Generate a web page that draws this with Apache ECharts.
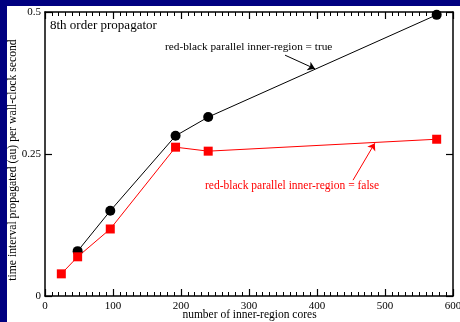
<!DOCTYPE html>
<html>
<head>
    <meta charset="UTF-8">
    <title>8th order propagator</title>
    <script src="https://cdn.jsdelivr.net/npm/echarts/dist/echarts.min.js"></script>
    <style>
        body { margin: 0; background: #000080; }
        #main { width: 460px; height: 322px; }
    </style>
</head>
<body>
    <div id="main"></div>
    <script>
        // data
        var coresTrue = [48, 96, 192, 240, 576];
        var rateTrue = [0.079, 0.150, 0.282, 0.315, 0.495];
        var coresFalse = [24, 48, 96, 192, 240, 576];
        var rateFalse = [0.039, 0.069, 0.118, 0.262, 0.255, 0.276];
        var yTicks = [0, 0.25, 0.5];

        function pairs(xs, ys) {
            return xs.map(function (x, i) { return [x, ys[i]]; });
        }

        var serif = '"Liberation Serif", "DejaVu Serif", serif';

        var chart = echarts.init(document.getElementById('main'));

        var baseX = {
            type: 'value', min: 0, max: 600, interval: 100,
            axisLine: { show: true, onZero: false, lineStyle: { color: '#000', width: 1.5 } },
            axisTick: { show: true, inside: true, length: 7, lineStyle: { color: '#000', width: 1.2 } },
            minorTick: { show: true, splitNumber: 10, length: 4, lineStyle: { color: '#000', width: 1 } },
            splitLine: { show: false }
        };
        var baseY = {
            type: 'value', min: 0, max: 0.5, interval: 0.25,
            axisLine: { show: true, onZero: false, lineStyle: { color: '#000', width: 1.5 } },
            axisTick: { show: true, inside: true, length: 7, lineStyle: { color: '#000', width: 1.2 } },
            splitLine: { show: false }
        };

        var option = {
            backgroundColor: '#000080',
            animation: false,
            graphic: [
                { type: 'rect', left: 7, top: 6, z: -100, shape: { width: 453, height: 316 }, style: { fill: '#fff' } },
                { type: 'text', left: 50, top: 19, style: { text: '8th order propagator', font: '13px ' + serif, fill: '#000' } },
                { type: 'text', left: 165, top: 42, style: { text: 'red-black parallel inner-region = true', font: '11.3px ' + serif, fill: '#000' } },
                { type: 'text', left: 205, top: 180, style: { text: 'red-black parallel inner-region = false', font: '11.5px ' + serif, fill: '#ff0000' } },
                {
                    type: 'text', x: 13, y: 160, rotation: Math.PI / 2,
                    style: {
                        text: 'time interval propagated (au) per wall-clock second',
                        font: '11.7px ' + serif, fill: '#000', align: 'center', verticalAlign: 'middle'
                    }
                },
                {
                    type: 'text', x: 249.5, y: 315,
                    style: {
                        text: 'number of inner-region cores',
                        font: '11.5px ' + serif, fill: '#000', align: 'center', verticalAlign: 'middle'
                    }
                }
            ],
            grid: { left: 45, top: 12, right: 7, bottom: 26, outerBoundsMode: 'none' },
            xAxis: [
                Object.assign({}, baseX, {
                    position: 'bottom',
                    axisLabel: { color: '#000', fontFamily: serif, fontSize: 11, margin: 5 }
                }),
                Object.assign({}, baseX, { position: 'top', axisLabel: { show: false } })
            ],
            yAxis: [
                Object.assign({}, baseY, {
                    position: 'left',
                    axisLabel: {
                        color: '#000', fontFamily: serif, fontSize: 11, margin: 4,
                        formatter: function (v) { return yTicks.indexOf(v) >= 0 ? String(v) : ''; }
                    }
                }),
                Object.assign({}, baseY, { position: 'right', axisLabel: { show: false } })
            ],
            series: [
                {
                    name: 'true', type: 'line',
                    data: pairs(coresTrue, rateTrue),
                    symbol: 'circle', symbolSize: 10,
                    lineStyle: { color: '#000', width: 1 },
                    itemStyle: { color: '#000' },
                    markLine: {
                        silent: true, symbol: ['none', 'arrow'], symbolSize: 7,
                        label: { show: false },
                        lineStyle: { color: '#000', width: 1, type: 'solid' },
                        data: [[{ coord: [353, 0.424] }, { coord: [397, 0.400] }]]
                    }
                },
                {
                    name: 'false', type: 'line',
                    data: pairs(coresFalse, rateFalse),
                    symbol: 'rect', symbolSize: 9,
                    lineStyle: { color: '#ff0000', width: 1 },
                    itemStyle: { color: '#ff0000' },
                    markLine: {
                        silent: true, symbol: ['none', 'arrow'], symbolSize: 7,
                        label: { show: false },
                        lineStyle: { color: '#ff0000', width: 1, type: 'solid' },
                        data: [[{ coord: [453, 0.204] }, { coord: [485, 0.269] }]]
                    }
                }
            ]
        };

        chart.setOption(option);
    </script>
</body>
</html>
